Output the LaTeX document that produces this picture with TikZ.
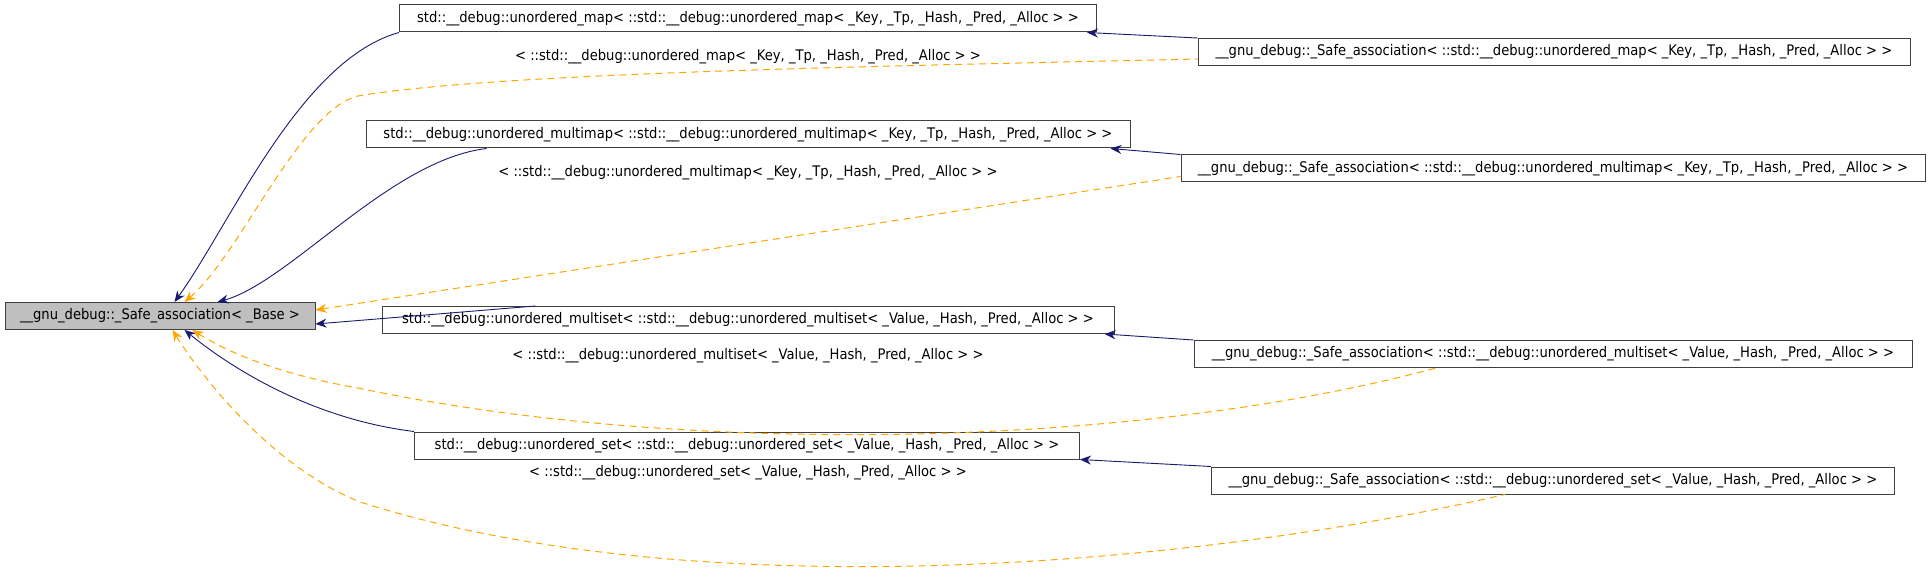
\documentclass[tikz,border=0pt]{standalone}
\usepackage{fontspec}
\setmainfont{DejaVu Sans Condensed}
\usetikzlibrary{arrows.meta}
\definecolor{dorange}{RGB}{255,165,0}
\definecolor{dblue}{RGB}{25,25,112}
\begin{document}
\begin{tikzpicture}[x=1pt,y=-1pt,
  box/.style={draw={rgb,255:red,64;green,64;blue,64},line width=1pt,inner sep=0pt,minimum height=27pt,font=\fontsize{14.6}{16}\selectfont,text=black},
  inh/.style={draw=dblue,line width=0.9pt,{Stealth[length=11pt,width=9pt]}-},
  tmpl/.style={draw=dorange,line width=1pt,dash pattern=on 7pt off 5pt,{Stealth[length=11pt,width=9pt]}-},
  lbl/.style={font=\fontsize{14.6}{16}\selectfont}]
\useasboundingbox (0,0) rectangle (1931,577);
\node[box,fill=black!25,minimum width=310pt] (base) at (160,316) {\_\_gnu\_debug::\_Safe\_association< \_Base >};
\node[box,minimum width=697pt] (map) at (748,18.5) {std::\_\_debug::unordered\_map< ::std::\_\_debug::unordered\_map< \_Key, \_Tp, \_Hash, \_Pred, \_Alloc > >};
\node[box,minimum width=712pt] (samap) at (1554,52) {\_\_gnu\_debug::\_Safe\_association< ::std::\_\_debug::unordered\_map< \_Key, \_Tp, \_Hash, \_Pred, \_Alloc > >};
\node[box,minimum width=764pt] (mmap) at (748,134.5) {std::\_\_debug::unordered\_multimap< ::std::\_\_debug::unordered\_multimap< \_Key, \_Tp, \_Hash, \_Pred, \_Alloc > >};
\node[box,minimum width=744pt] (sammap) at (1553,168.5) {\_\_gnu\_debug::\_Safe\_association< ::std::\_\_debug::unordered\_multimap< \_Key, \_Tp, \_Hash, \_Pred, \_Alloc > >};
\node[box,minimum width=732pt] (mset) at (748,320) {std::\_\_debug::unordered\_multiset< ::std::\_\_debug::unordered\_multiset< \_Value, \_Hash, \_Pred, \_Alloc > >};
\node[box,minimum width=718pt] (samset) at (1553,354) {\_\_gnu\_debug::\_Safe\_association< ::std::\_\_debug::unordered\_multiset< \_Value, \_Hash, \_Pred, \_Alloc > >};
\node[box,minimum width=665pt] (set) at (747,445.5) {std::\_\_debug::unordered\_set< ::std::\_\_debug::unordered\_set< \_Value, \_Hash, \_Pred, \_Alloc > >};
\node[box,minimum width=683pt] (saset) at (1553,480.5) {\_\_gnu\_debug::\_Safe\_association< ::std::\_\_debug::unordered\_set< \_Value, \_Hash, \_Pred, \_Alloc > >};
% inheritance
\draw[inh] (base.north west) ++(170,0) .. controls (230,225) and (300,60) .. (map.south west);
\draw[inh] (map.south east) ++(-10,0) -- (samap.north west);
\draw[inh] (base.north west) ++(213,0) .. controls (290,282) and (390,160) .. ([xshift=121pt]mmap.south west);
\draw[inh] (mmap.south east) ++(-20,0) -- (sammap.north west);
\draw[inh] (base.east) ++(0,8) -- ([xshift=154pt]mset.north west);
\draw[inh] (mset.south east) ++(-10,0) -- (samset.north west);
\draw[inh] (base.south west) ++(180,0) .. controls (240,375) and (320,420) .. (set.north west);
\draw[inh] (set.south east) -- (saset.north west);
% template
\draw[tmpl] (base.north west) ++(180,0) .. controls (240,255) and (300,110) .. (358,96) .. controls (500,72) and (900,66) .. ([yshift=7pt]samap.south west);
\node[lbl] (l1) at (748,57) {< ::std::\_\_debug::unordered\_map< \_Key, \_Tp, \_Hash, \_Pred, \_Alloc > >};
\draw[tmpl] (base.east) ++(0,-6) -- ([yshift=6pt]sammap.south west);
\node[lbl] (l2) at (748,173) {< ::std::\_\_debug::unordered\_multimap< \_Key, \_Tp, \_Hash, \_Pred, \_Alloc > >};
\draw[tmpl] (base.south west) ++(188,0) .. controls (240,360) and (300,378) .. (358,388) .. controls (700,460) and (1150,445) .. ([xshift=-117pt]samset.south);
\node[lbl] (l3) at (748,356) {< ::std::\_\_debug::unordered\_multiset< \_Value, \_Hash, \_Pred, \_Alloc > >};
\draw[tmpl] (base.south west) ++(168,0) .. controls (210,390) and (280,470) .. (360,502) .. controls (700,610) and (1200,565) .. ([xshift=-48pt]saset.south);
\node[lbl] (l4) at (748,473) {< ::std::\_\_debug::unordered\_set< \_Value, \_Hash, \_Pred, \_Alloc > >};
\end{tikzpicture}
\end{document}
